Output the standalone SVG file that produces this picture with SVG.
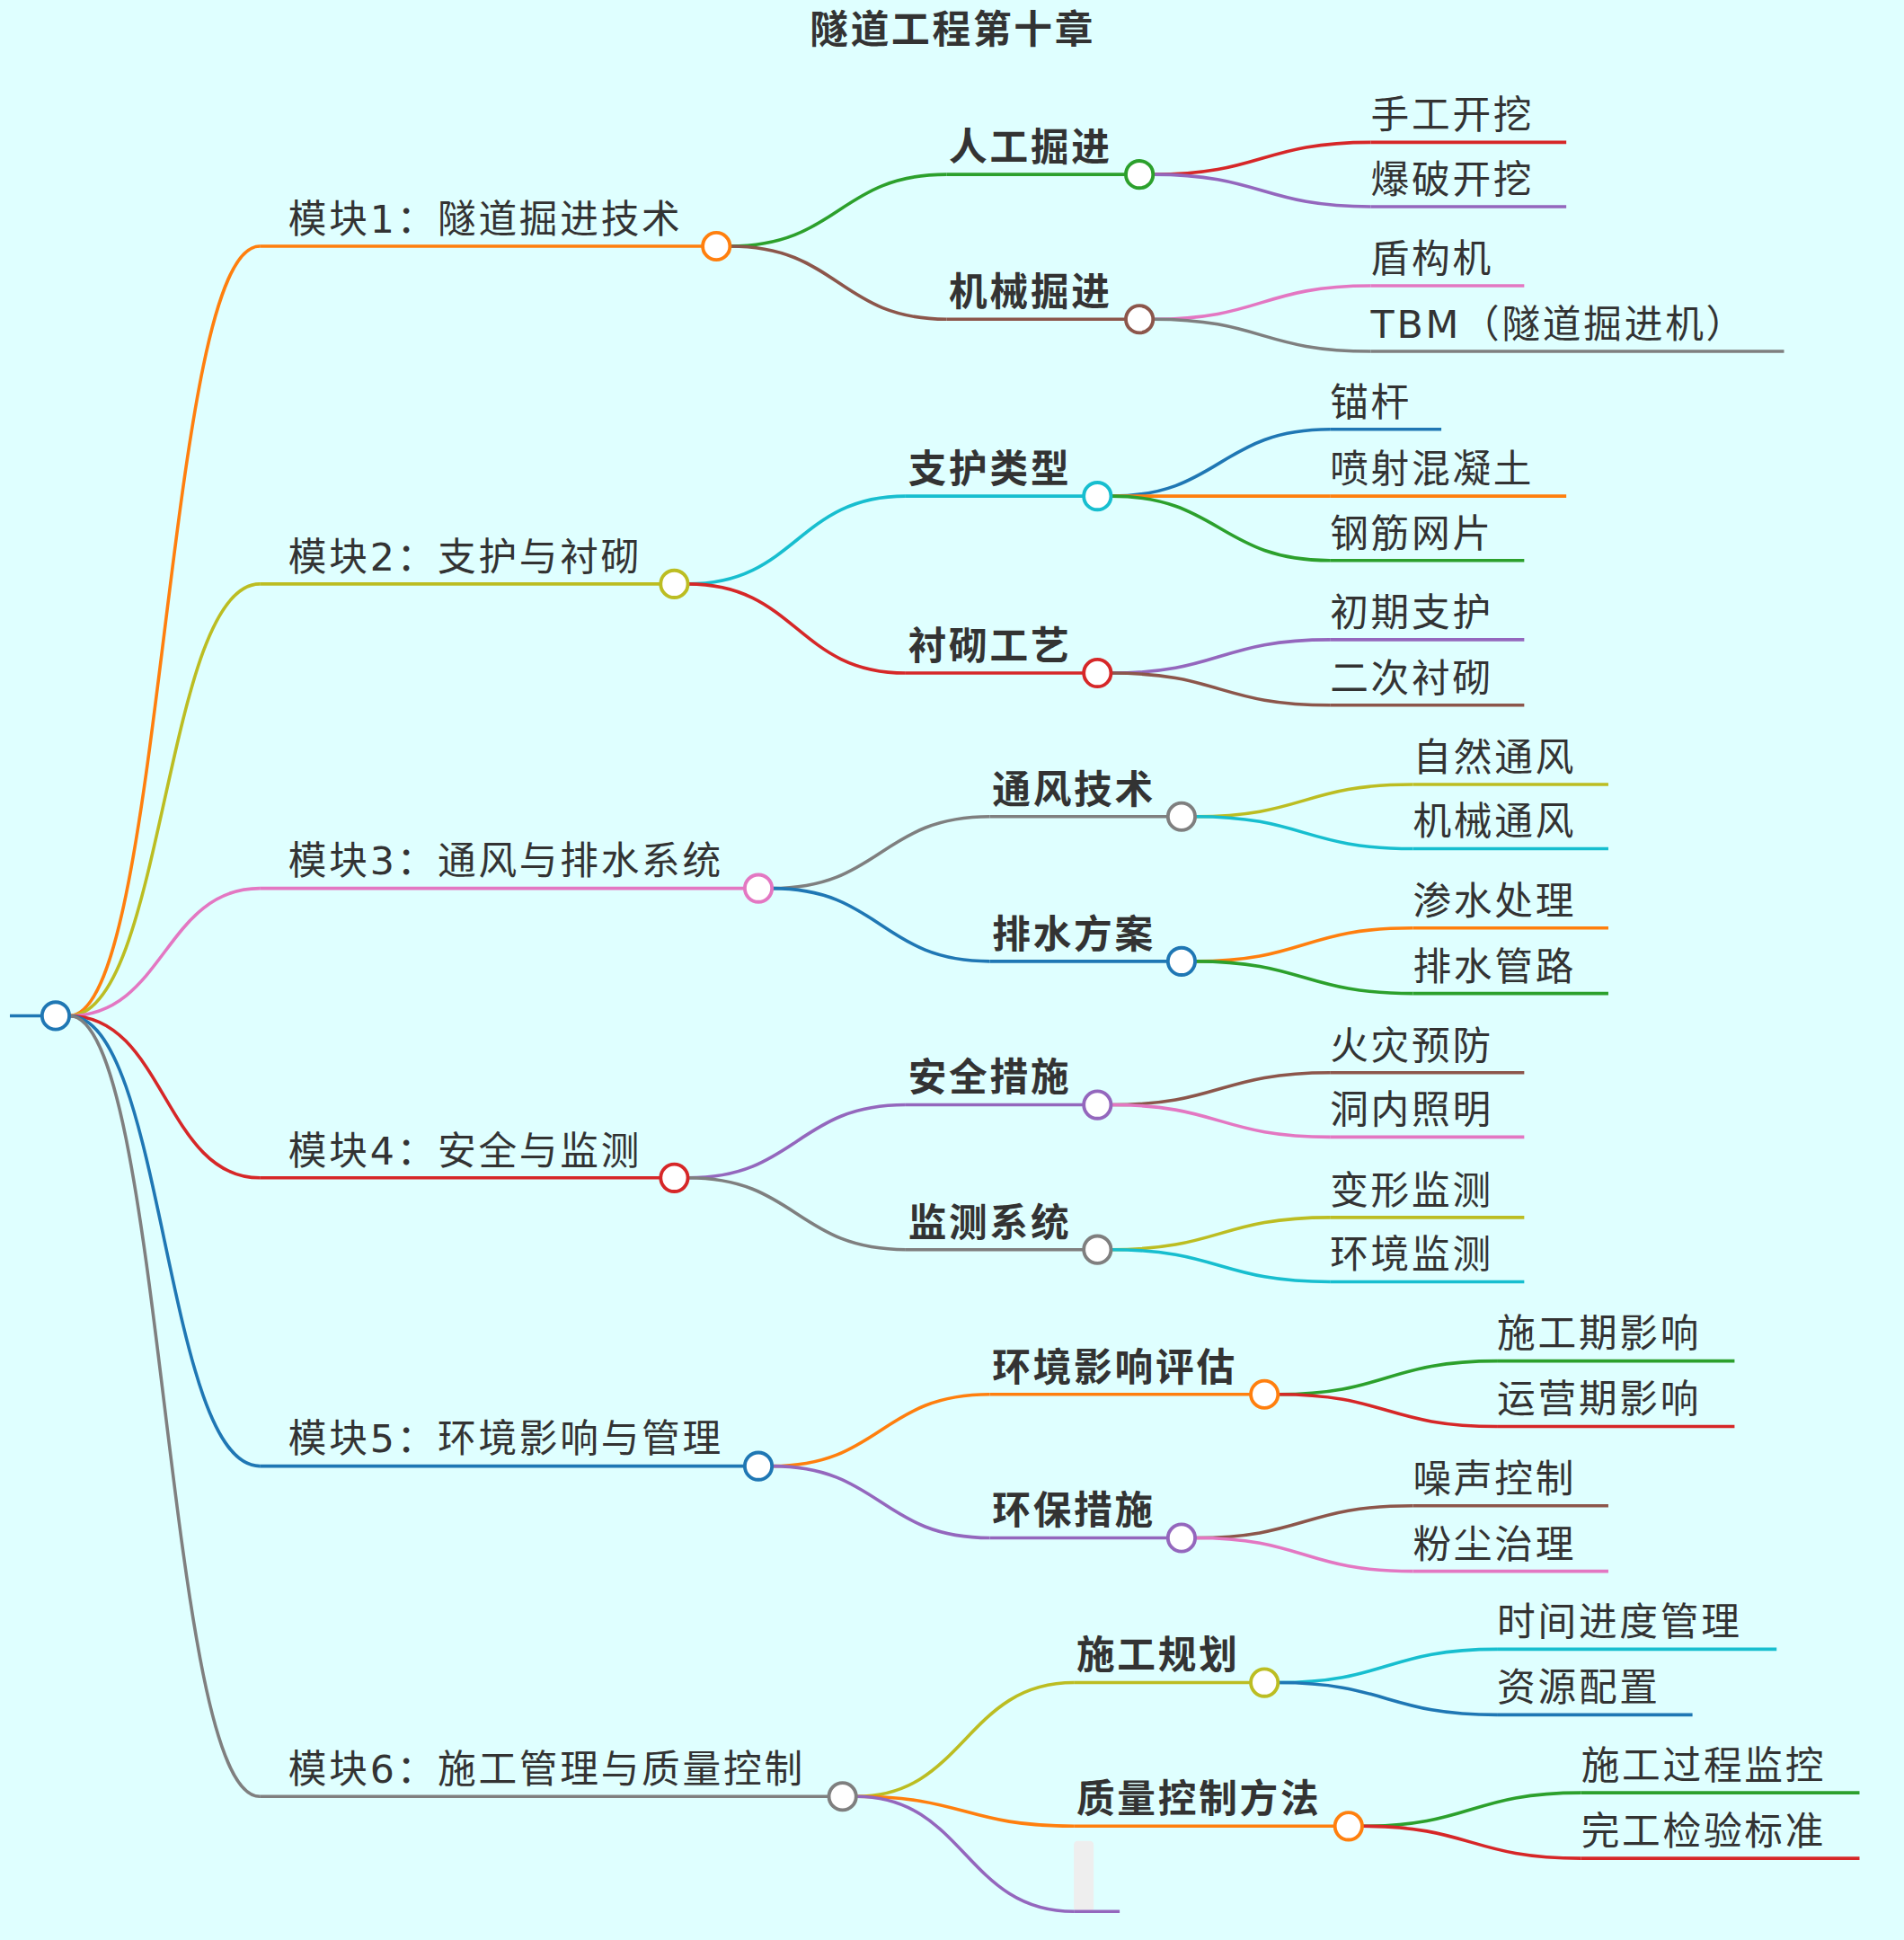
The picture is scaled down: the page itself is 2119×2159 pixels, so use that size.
<svg xmlns="http://www.w3.org/2000/svg" width="2119" height="2159" viewBox="0 0 2119 2159">
<style>
text{font-family:"DejaVu Sans","Noto Sans CJK SC",sans-serif;font-size:31px;fill:#333;letter-spacing:2px}
.b{font-weight:bold}
.t{font-weight:bold;text-anchor:middle}
path,line{fill:none;stroke-width:2.6}
circle{fill:#fff;stroke-width:2.8}
</style>
<rect width="2119" height="2159" fill="#dfffff"/>
<g transform="scale(1.3769)">
<text class="t" x="770" y="35">隧道工程第十章</text>
<g id="connectors">
<line x1="8" y1="821" x2="34" y2="821" stroke="#1f77b4"/>
<path d="M56,821 C133,821 133,199 210,199" stroke="#ff7f0e"/>
<path d="M56,821 C133,821 133,472 210,472" stroke="#bcbd22"/>
<path d="M56,821 C133,821 133,718 210,718" stroke="#e377c2"/>
<path d="M56,821 C133,821 133,952 210,952" stroke="#d62728"/>
<path d="M56,821 C133,821 133,1185 210,1185" stroke="#1f77b4"/>
<path d="M56,821 C133,821 133,1452 210,1452" stroke="#7f7f7f"/>
<path d="M590,199 C678,199 678,141 765,141" stroke="#2ca02c"/>
<path d="M590,199 C678,199 678,258 765,258" stroke="#8c564b"/>
<path d="M556,472 C644,472 644,401 732,401" stroke="#17becf"/>
<path d="M556,472 C644,472 644,544 732,544" stroke="#d62728"/>
<path d="M624,718 C712,718 712,660 800,660" stroke="#7f7f7f"/>
<path d="M624,718 C712,718 712,777 800,777" stroke="#1f77b4"/>
<path d="M556,952 C644,952 644,893 732,893" stroke="#9467bd"/>
<path d="M556,952 C644,952 644,1010 732,1010" stroke="#7f7f7f"/>
<path d="M624,1185 C712,1185 712,1127 800,1127" stroke="#ff7f0e"/>
<path d="M624,1185 C712,1185 712,1243 800,1243" stroke="#9467bd"/>
<path d="M692,1452 C780,1452 780,1360 868,1360" stroke="#bcbd22"/>
<path d="M692,1452 C780,1452 780,1476 868,1476" stroke="#ff7f0e"/>
<path d="M692,1452 C780,1452 780,1545 868,1545" stroke="#9467bd"/>
<path d="M932,141 C1020,141 1020,115 1108,115" stroke="#d62728"/>
<path d="M932,141 C1020,141 1020,167 1108,167" stroke="#9467bd"/>
<path d="M932,258 C1020,258 1020,231 1108,231" stroke="#e377c2"/>
<path d="M932,258 C1020,258 1020,284 1108,284" stroke="#7f7f7f"/>
<path d="M898,401 C986,401 986,347 1075,347" stroke="#1f77b4"/>
<path d="M898,401 C986,401 986,401 1075,401" stroke="#ff7f0e"/>
<path d="M898,401 C986,401 986,453 1075,453" stroke="#2ca02c"/>
<path d="M898,544 C986,544 986,517 1075,517" stroke="#9467bd"/>
<path d="M898,544 C986,544 986,570 1075,570" stroke="#8c564b"/>
<path d="M966,660 C1054,660 1054,634 1142,634" stroke="#bcbd22"/>
<path d="M966,660 C1054,660 1054,686 1142,686" stroke="#17becf"/>
<path d="M966,777 C1054,777 1054,750 1142,750" stroke="#ff7f0e"/>
<path d="M966,777 C1054,777 1054,803 1142,803" stroke="#2ca02c"/>
<path d="M898,893 C986,893 986,867 1075,867" stroke="#8c564b"/>
<path d="M898,893 C986,893 986,919 1075,919" stroke="#e377c2"/>
<path d="M898,1010 C986,1010 986,984 1075,984" stroke="#bcbd22"/>
<path d="M898,1010 C986,1010 986,1036 1075,1036" stroke="#17becf"/>
<path d="M1033,1127 C1121,1127 1121,1100 1210,1100" stroke="#2ca02c"/>
<path d="M1033,1127 C1121,1127 1121,1153 1210,1153" stroke="#d62728"/>
<path d="M966,1243 C1054,1243 1054,1217 1142,1217" stroke="#8c564b"/>
<path d="M966,1243 C1054,1243 1054,1270 1142,1270" stroke="#e377c2"/>
<path d="M1033,1360 C1121,1360 1121,1333 1210,1333" stroke="#17becf"/>
<path d="M1033,1360 C1121,1360 1121,1386 1210,1386" stroke="#1f77b4"/>
<path d="M1101,1476 C1189,1476 1189,1449 1278,1449" stroke="#2ca02c"/>
<path d="M1101,1476 C1189,1476 1189,1502 1278,1502" stroke="#d62728"/>
</g>
<g id="root"><circle cx="45" cy="821" r="11" stroke="#1f77b4"/></g>
<g id="m1"><line x1="210" y1="199" x2="568" y2="199" stroke="#ff7f0e"/><text x="233" y="188">模块1：隧道掘进技术</text><circle cx="579" cy="199" r="11" stroke="#ff7f0e"/></g>
<g id="m2"><line x1="210" y1="472" x2="534" y2="472" stroke="#bcbd22"/><text x="233" y="461">模块2：支护与衬砌</text><circle cx="545" cy="472" r="11" stroke="#bcbd22"/></g>
<g id="m3"><line x1="210" y1="718" x2="602" y2="718" stroke="#e377c2"/><text x="233" y="707">模块3：通风与排水系统</text><circle cx="613" cy="718" r="11" stroke="#e377c2"/></g>
<g id="m4"><line x1="210" y1="952" x2="534" y2="952" stroke="#d62728"/><text x="233" y="941">模块4：安全与监测</text><circle cx="545" cy="952" r="11" stroke="#d62728"/></g>
<g id="m5"><line x1="210" y1="1185" x2="602" y2="1185" stroke="#1f77b4"/><text x="233" y="1174">模块5：环境影响与管理</text><circle cx="613" cy="1185" r="11" stroke="#1f77b4"/></g>
<g id="m6"><line x1="210" y1="1452" x2="670" y2="1452" stroke="#7f7f7f"/><text x="233" y="1441">模块6：施工管理与质量控制</text><circle cx="681" cy="1452" r="11" stroke="#7f7f7f"/></g>
<g id="s11"><line x1="765" y1="141" x2="910" y2="141" stroke="#2ca02c"/><text class="b" x="767" y="130">人工掘进</text><circle cx="921" cy="141" r="11" stroke="#2ca02c"/></g>
<g id="s12"><line x1="765" y1="258" x2="910" y2="258" stroke="#8c564b"/><text class="b" x="767" y="247">机械掘进</text><circle cx="921" cy="258" r="11" stroke="#8c564b"/></g>
<g id="s21"><line x1="732" y1="401" x2="876" y2="401" stroke="#17becf"/><text class="b" x="734" y="390">支护类型</text><circle cx="887" cy="401" r="11" stroke="#17becf"/></g>
<g id="s22"><line x1="732" y1="544" x2="876" y2="544" stroke="#d62728"/><text class="b" x="734" y="533">衬砌工艺</text><circle cx="887" cy="544" r="11" stroke="#d62728"/></g>
<g id="s31"><line x1="800" y1="660" x2="944" y2="660" stroke="#7f7f7f"/><text class="b" x="802" y="649">通风技术</text><circle cx="955" cy="660" r="11" stroke="#7f7f7f"/></g>
<g id="s32"><line x1="800" y1="777" x2="944" y2="777" stroke="#1f77b4"/><text class="b" x="802" y="766">排水方案</text><circle cx="955" cy="777" r="11" stroke="#1f77b4"/></g>
<g id="s41"><line x1="732" y1="893" x2="876" y2="893" stroke="#9467bd"/><text class="b" x="734" y="882">安全措施</text><circle cx="887" cy="893" r="11" stroke="#9467bd"/></g>
<g id="s42"><line x1="732" y1="1010" x2="876" y2="1010" stroke="#7f7f7f"/><text class="b" x="734" y="999">监测系统</text><circle cx="887" cy="1010" r="11" stroke="#7f7f7f"/></g>
<g id="s51"><line x1="800" y1="1127" x2="1011" y2="1127" stroke="#ff7f0e"/><text class="b" x="802" y="1116">环境影响评估</text><circle cx="1022" cy="1127" r="11" stroke="#ff7f0e"/></g>
<g id="s52"><line x1="800" y1="1243" x2="944" y2="1243" stroke="#9467bd"/><text class="b" x="802" y="1232">环保措施</text><circle cx="955" cy="1243" r="11" stroke="#9467bd"/></g>
<g id="s61"><line x1="868" y1="1360" x2="1011" y2="1360" stroke="#bcbd22"/><text class="b" x="870" y="1349">施工规划</text><circle cx="1022" cy="1360" r="11" stroke="#bcbd22"/></g>
<g id="s62"><line x1="868" y1="1476" x2="1079" y2="1476" stroke="#ff7f0e"/><text class="b" x="870" y="1465">质量控制方法</text><circle cx="1090" cy="1476" r="11" stroke="#ff7f0e"/></g>
<g id="s63"><rect x="868" y="1488" width="16" height="57" rx="3" fill="#eeeeee"/><line x1="868" y1="1545" x2="905" y2="1545" stroke="#9467bd"/></g>
<g id="leaves">
<g id="l1"><line x1="1108" y1="115" x2="1266" y2="115" stroke="#d62728"/><text x="1108" y="104">手工开挖</text></g>
<g id="l2"><line x1="1108" y1="167" x2="1266" y2="167" stroke="#9467bd"/><text x="1108" y="156">爆破开挖</text></g>
<g id="l3"><line x1="1108" y1="231" x2="1232" y2="231" stroke="#e377c2"/><text x="1108" y="220">盾构机</text></g>
<g id="l4"><line x1="1108" y1="284" x2="1442" y2="284" stroke="#7f7f7f"/><text x="1108" y="273">TBM（隧道掘进机）</text></g>
<g id="l5"><line x1="1075" y1="347" x2="1165" y2="347" stroke="#1f77b4"/><text x="1075" y="336">锚杆</text></g>
<g id="l6"><line x1="1075" y1="401" x2="1266" y2="401" stroke="#ff7f0e"/><text x="1075" y="390">喷射混凝土</text></g>
<g id="l7"><line x1="1075" y1="453" x2="1232" y2="453" stroke="#2ca02c"/><text x="1075" y="442">钢筋网片</text></g>
<g id="l8"><line x1="1075" y1="517" x2="1232" y2="517" stroke="#9467bd"/><text x="1075" y="506">初期支护</text></g>
<g id="l9"><line x1="1075" y1="570" x2="1232" y2="570" stroke="#8c564b"/><text x="1075" y="559">二次衬砌</text></g>
<g id="l10"><line x1="1142" y1="634" x2="1300" y2="634" stroke="#bcbd22"/><text x="1142" y="623">自然通风</text></g>
<g id="l11"><line x1="1142" y1="686" x2="1300" y2="686" stroke="#17becf"/><text x="1142" y="675">机械通风</text></g>
<g id="l12"><line x1="1142" y1="750" x2="1300" y2="750" stroke="#ff7f0e"/><text x="1142" y="739">渗水处理</text></g>
<g id="l13"><line x1="1142" y1="803" x2="1300" y2="803" stroke="#2ca02c"/><text x="1142" y="792">排水管路</text></g>
<g id="l14"><line x1="1075" y1="867" x2="1232" y2="867" stroke="#8c564b"/><text x="1075" y="856">火灾预防</text></g>
<g id="l15"><line x1="1075" y1="919" x2="1232" y2="919" stroke="#e377c2"/><text x="1075" y="908">洞内照明</text></g>
<g id="l16"><line x1="1075" y1="984" x2="1232" y2="984" stroke="#bcbd22"/><text x="1075" y="973">变形监测</text></g>
<g id="l17"><line x1="1075" y1="1036" x2="1232" y2="1036" stroke="#17becf"/><text x="1075" y="1025">环境监测</text></g>
<g id="l18"><line x1="1210" y1="1100" x2="1402" y2="1100" stroke="#2ca02c"/><text x="1210" y="1089">施工期影响</text></g>
<g id="l19"><line x1="1210" y1="1153" x2="1402" y2="1153" stroke="#d62728"/><text x="1210" y="1142">运营期影响</text></g>
<g id="l20"><line x1="1142" y1="1217" x2="1300" y2="1217" stroke="#8c564b"/><text x="1142" y="1206">噪声控制</text></g>
<g id="l21"><line x1="1142" y1="1270" x2="1300" y2="1270" stroke="#e377c2"/><text x="1142" y="1259">粉尘治理</text></g>
<g id="l22"><line x1="1210" y1="1333" x2="1436" y2="1333" stroke="#17becf"/><text x="1210" y="1322">时间进度管理</text></g>
<g id="l23"><line x1="1210" y1="1386" x2="1368" y2="1386" stroke="#1f77b4"/><text x="1210" y="1375">资源配置</text></g>
<g id="l24"><line x1="1278" y1="1449" x2="1503" y2="1449" stroke="#2ca02c"/><text x="1278" y="1438">施工过程监控</text></g>
<g id="l25"><line x1="1278" y1="1502" x2="1503" y2="1502" stroke="#d62728"/><text x="1278" y="1491">完工检验标准</text></g>
</g>
</g>
</svg>
